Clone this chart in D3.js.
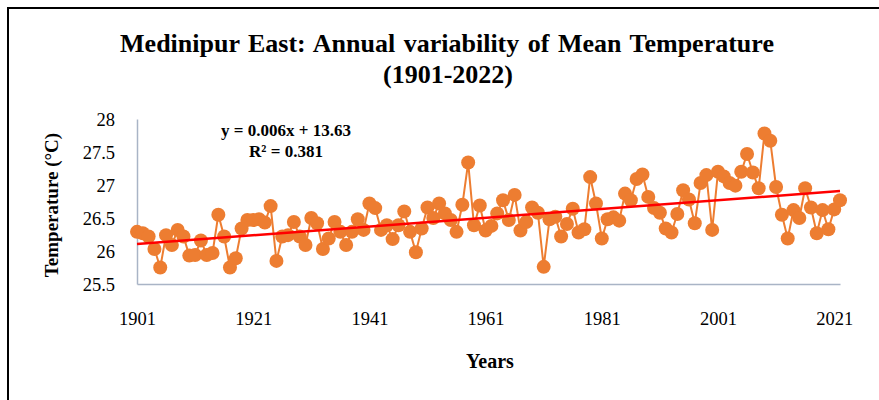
<!DOCTYPE html>
<html>
<head>
<meta charset="utf-8">
<script src="https://cdn.jsdelivr.net/npm/d3@7"></script>
<style>
  html, body { margin: 0; padding: 0; background: #fff; }
  svg { display: block; }
  text { font-family: "Liberation Serif", "Times New Roman", serif; fill: #000; }
</style>
</head>
<body>
<svg id="chart" width="879" height="400"></svg>
<script>
const titleLines = ["Medinipur East: Annual variability of Mean Temperature", "(1901-2022)"];
const yAxisTitle = "Temperature (°C)";
const xAxisTitle = "Years";
const equationText = "y = 0.006x + 13.63";
const r2Text = "R² = 0.381";

const years = d3.range(1901, 2023);
const meanTemp = [
  26.29, 26.27, 26.22, 26.03, 25.75, 26.24, 26.09, 26.32, 26.22, 25.93,
  25.94, 26.16, 25.94, 25.97, 26.55, 26.22, 25.75, 25.89, 26.34, 26.47,
  26.47, 26.48, 26.43, 26.68, 25.85, 26.22, 26.24, 26.44, 26.22, 26.09,
  26.50, 26.42, 26.03, 26.19, 26.44, 26.29, 26.09, 26.29, 26.48, 26.32,
  26.72, 26.65, 26.32, 26.39, 26.18, 26.39, 26.60, 26.29, 25.98, 26.34,
  26.66, 26.50, 26.72, 26.57, 26.47, 26.29, 26.70, 27.34, 26.39, 26.69,
  26.31, 26.38, 26.57, 26.77, 26.47, 26.85, 26.31, 26.44, 26.66, 26.58,
  25.76, 26.48, 26.52, 26.22, 26.41, 26.64, 26.28, 26.33, 27.12, 26.72,
  26.19, 26.48, 26.51, 26.46, 26.87, 26.77, 27.09, 27.16, 26.82, 26.65,
  26.58, 26.34, 26.28, 26.56, 26.92, 26.78, 26.42, 27.03, 27.15, 26.32,
  27.20, 27.13, 27.03, 26.99, 27.20, 27.47, 27.19, 26.95, 27.78, 27.67,
  26.97, 26.55, 26.19, 26.62, 26.50, 26.95, 26.66, 26.27, 26.62, 26.33,
  26.63, 26.77
];
const xTickYears = [1901, 1921, 1941, 1961, 1981, 2001, 2021];
const yTicks = [25.5, 26, 26.5, 27, 27.5, 28];

const data = years.map((y, i) => ({ year: y, value: meanTemp[i] }));

const svg = d3.select("#chart");

// outer border (extends past the viewport like the reference crop)
svg.append("path")
  .attr("d", "M8,410 L8,8 L890,8")
  .attr("fill", "none")
  .attr("stroke", "#000")
  .attr("stroke-width", 2);

const x = d3.scaleLinear().domain([1901, 2022]).range([137, 840]);
const y = d3.scaleLinear().domain([25.5, 28]).range([284, 119]);

// Title
const title = svg.append("text")
  .attr("text-anchor", "middle")
  .style("font-weight", "bold")
  .style("font-size", "26px");
title.append("tspan").attr("x", 447).attr("y", 52).style("word-spacing", "2px").text(titleLines[0]);
title.append("tspan").attr("x", 448).attr("y", 83).text(titleLines[1]);

// Axes
const yAxis = d3.axisLeft(y).tickValues(yTicks).tickSize(0).tickPadding(22).tickFormat(d3.format("~g"));
const gy = svg.append("g").attr("transform", "translate(137,0)").call(yAxis);
gy.select(".domain").attr("stroke", "#A9B4C6").attr("stroke-width", 1.5);
gy.selectAll("text").style("font-size", "18.5px").style("font-family", "'Liberation Serif', serif").attr("dy", "0.35em");

const xAxis = d3.axisBottom(x).tickValues(xTickYears).tickSize(0).tickPadding(28).tickFormat(d3.format("d"));
const gx = svg.append("g").attr("transform", "translate(0,284)").call(xAxis);
gx.select(".domain").attr("stroke", "#A9B4C6").attr("stroke-width", 1.5);
gx.selectAll("text").style("font-size", "18.5px").style("font-family", "'Liberation Serif', serif");

// Axis titles
svg.append("text")
  .attr("transform", "translate(58,205) rotate(-90)")
  .attr("text-anchor", "middle")
  .style("font-weight", "bold")
  .style("font-size", "19px")
  .text(yAxisTitle);

svg.append("text")
  .attr("x", 490).attr("y", 368)
  .attr("text-anchor", "middle")
  .style("font-weight", "bold")
  .style("font-size", "20px")
  .text(xAxisTitle);

// Series line
const line = d3.line().x(d => x(d.year)).y(d => y(d.value));
svg.append("path")
  .datum(data)
  .attr("fill", "none")
  .attr("stroke", "#ED7D31")
  .attr("stroke-width", 2)
  .attr("d", line);

svg.append("g").selectAll("circle")
  .data(data).join("circle")
  .attr("cx", d => x(d.year))
  .attr("cy", d => y(d.value))
  .attr("r", 7)
  .attr("fill", "#ED7D31");

// Linear trend (least squares from the data)
const mx = d3.mean(data, d => d.year), my = d3.mean(data, d => d.value);
const slope = d3.sum(data, d => (d.year - mx) * (d.value - my)) / d3.sum(data, d => (d.year - mx) ** 2);
const intercept = my - slope * mx;
const trendPts = [1901, 2022].map(yr => ({ year: yr, value: intercept + slope * yr }));
svg.append("path")
  .datum(trendPts)
  .attr("fill", "none")
  .attr("stroke", "#FF0000")
  .attr("stroke-width", 2.5)
  .attr("d", line);

// Equation labels
svg.append("text")
  .attr("x", 286).attr("y", 136)
  .attr("text-anchor", "middle")
  .style("font-weight", "bold")
  .style("font-size", "17px")
  .text(equationText);
svg.append("text")
  .attr("x", 286).attr("y", 157)
  .attr("text-anchor", "middle")
  .style("font-weight", "bold")
  .style("font-size", "17px")
  .text(r2Text);
</script>
</body>
</html>
